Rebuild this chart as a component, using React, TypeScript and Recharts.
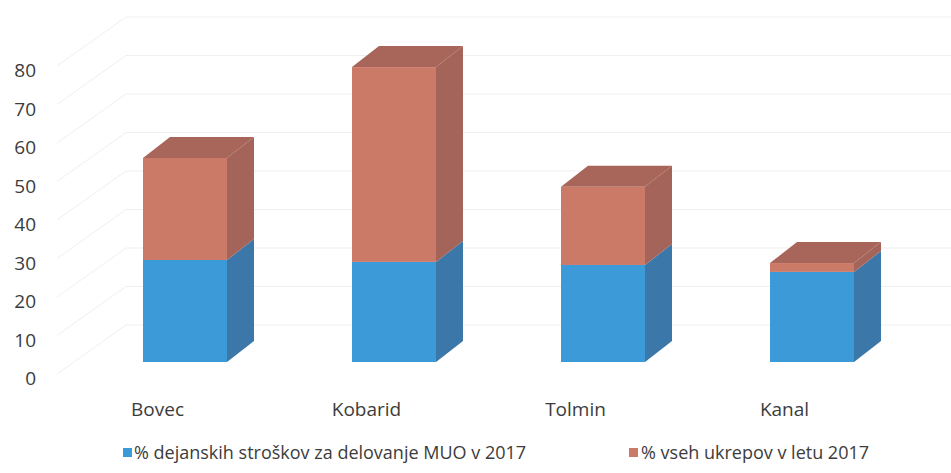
import React from 'react';
import { BarChart, Bar, XAxis, YAxis, CartesianGrid, Legend } from 'recharts';

// Občine in deleži (odčitano s slike)
const categories = ['Bovec', 'Kobarid', 'Tolmin', 'Kanal'];
const stroski = [26.5, 26, 25.2, 23.4];
const ukrepi = [26.5, 50.6, 20.3, 2.3];
const yTicks = [0, 10, 20, 30, 40, 50, 60, 70, 80];

const SERIES_BLUE = '% dejanskih stroškov za delovanje MUO v 2017';
const SERIES_RED = '% vseh ukrepov v letu 2017';

const data = categories.map((name, i) => ({ name, stroski: stroski[i], ukrepi: ukrepi[i] }));

const FONT = '"Open Sans", sans-serif';
const TEXT = '#3c3c3c';
// globina 3D stebrička
const DX = 27;
const DY = 21;

const makeBox = (front: string, side: string, top: string | null) => (props: any) => {
  const { x, y, width, height } = props;
  if (!height || height <= 0) return <g />;
  const r = x + width;
  const b = y + height;
  return (
    <g>
      <rect x={x} y={y} width={width} height={height} fill={front} />
      <path d={`M${r},${y} L${r + DX},${y - DY} L${r + DX},${b - DY} L${r},${b} Z`} fill={side} />
      {top && <path d={`M${x},${y} L${x + DX},${y - DY} L${r + DX},${y - DY} L${r},${y} Z`} fill={top} />}
    </g>
  );
};

const gridLine = (props: any) => {
  const { y1, index } = props;
  return (
    <g key={`g-${index}`}>
      <path
        d={`M57,${y1 + 12} L126,${y1 - 37} L951,${y1 - 37}`}
        fill="none"
        stroke="#efefef"
        strokeWidth={1}
      />
    </g>
  );
};

const YTick = (props: any) => {
  const { x, y, payload } = props;
  return (
    <text x={x - 36} y={y + 16} textAnchor="end" dominantBaseline="central" fontFamily={FONT} fontSize={19} fill={TEXT}>
      {payload.value}
    </text>
  );
};

const XTick = (props: any) => {
  const { x, y, payload } = props;
  return (
    <text x={x - 27} y={y + 39} textAnchor="middle" dominantBaseline="central" fontFamily={FONT} fontSize={19} fill={TEXT}>
      {payload.value}
    </text>
  );
};

const LegendBox = () => (
  <div style={{ position: 'relative', height: 51, width: 951, fontFamily: FONT, fontSize: 18, color: TEXT }}>
    <span style={{ position: 'absolute', left: 123, top: 26, width: 9, height: 9, background: '#3d9ad8' }} />
    <span style={{ position: 'absolute', left: 134, top: 17, lineHeight: '26px', whiteSpace: 'nowrap' }}>{SERIES_BLUE}</span>
    <span style={{ position: 'absolute', left: 629, top: 26, width: 9, height: 9, background: '#cc7a68' }} />
    <span style={{ position: 'absolute', left: 641, top: 17, lineHeight: '26px', whiteSpace: 'nowrap' }}>{SERIES_RED}</span>
  </div>
);

export default function App() {
  return (
    <div style={{ position: 'absolute', left: 0, top: 0, background: '#fff' }}>
      <BarChart width={951} height={473} data={data} margin={{ top: 54, right: 35, bottom: 0, left: 0 }} barSize={84}>
        <CartesianGrid vertical={false} horizontal={gridLine} />
        <XAxis dataKey="name" axisLine={false} tickLine={false} height={60} tick={<XTick />} interval={0} />
        <YAxis
          domain={[0, 80]}
          ticks={yTicks}
          axisLine={false}
          tickLine={false}
          width={80}
          tick={<YTick />}
          interval={0}
        />
        <Legend
          verticalAlign="bottom"
          content={<LegendBox />}
          wrapperStyle={{ left: 0, bottom: 0, width: 951, height: 51 }}
        />
        <Bar dataKey="stroski" name={SERIES_BLUE} stackId="a" fill="#3d9ad8" isAnimationActive={false}
          shape={makeBox('#3d9ad8', '#3b77a9', null)} />
        <Bar dataKey="ukrepi" name={SERIES_RED} stackId="a" fill="#cc7a68" isAnimationActive={false}
          shape={makeBox('#cc7a68', '#a5645a', '#a8665b')} />
      </BarChart>
    </div>
  );
}
